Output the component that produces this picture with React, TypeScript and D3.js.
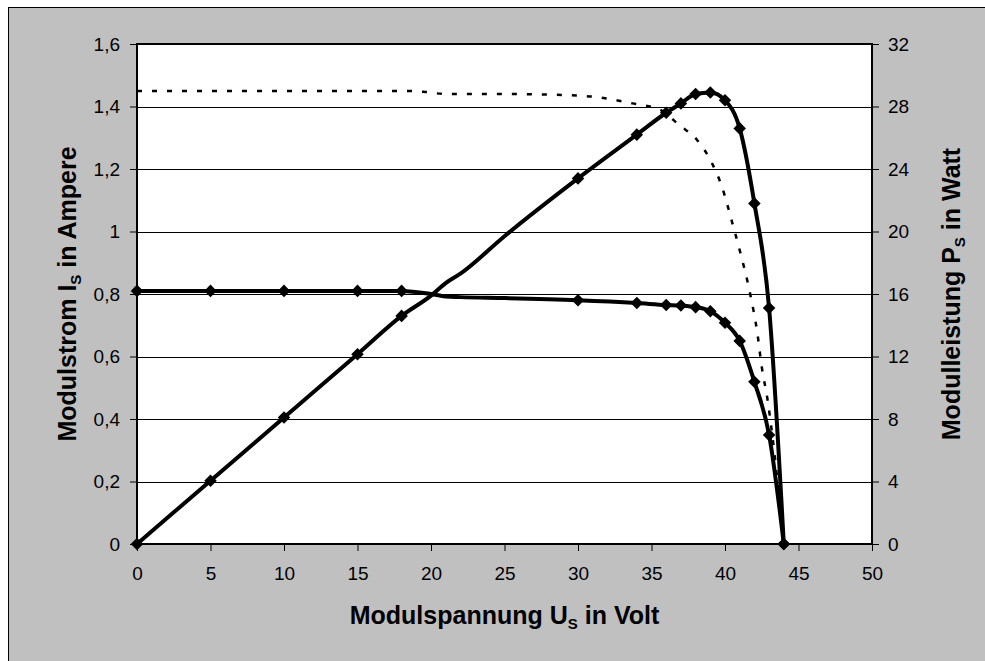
import React, { useEffect, useRef } from 'react';
import * as d3 from 'd3';

// Module voltage (V) for the measured series
const voltage = [0, 5, 10, 15, 18, 20, 21, 22, 25, 30, 34, 36, 37, 38, 39, 40, 41, 42, 43, 44];
// Module current (A), left axis
const current = [0.81, 0.81, 0.81, 0.81, 0.81, 0.8, 0.792, 0.79, 0.787, 0.78, 0.771, 0.765, 0.763, 0.758, 0.745, 0.708, 0.65, 0.519, 0.349, 0];
// Module power (W), right axis
const power = [0, 4.05, 8.1, 12.15, 14.6, 15.9, 16.7, 17.3, 19.7, 23.4, 26.2, 27.6, 28.2, 28.8, 28.9, 28.4, 26.6, 21.8, 15.1, 0];
// Voltages that carry a marker
const markedVoltages = [0, 5, 10, 15, 18, 30, 34, 36, 37, 38, 39, 40, 41, 42, 43, 44];

// Dotted reference curve (higher irradiance I-V curve)
const refVoltage = [0, 10, 18, 19.5, 21, 25, 30, 33.7, 35.6, 36.9, 38.1, 39.1, 39.8, 40.5, 41.0, 41.7, 42.2, 42.5, 42.9, 43.2, 44];
const refCurrent = [1.45, 1.45, 1.45, 1.447, 1.44, 1.44, 1.435, 1.41, 1.389, 1.34, 1.293, 1.22, 1.142, 1.027, 0.94, 0.803, 0.675, 0.567, 0.46, 0.355, 0];

const xTicks = [0, 5, 10, 15, 20, 25, 30, 35, 40, 45, 50];
const iTicks = [0, 0.2, 0.4, 0.6, 0.8, 1, 1.2, 1.4, 1.6];
const pTicks = [0, 4, 8, 12, 16, 20, 24, 28, 32];

const App = () => {
  const svgRef = useRef<SVGSVGElement>(null);

  useEffect(() => {
    const width = 985;
    const height = 661;
    const plot = { left: 137, right: 872, top: 44, bottom: 544 };
    const font = 'Liberation Sans, Arial, sans-serif';
    const titleSize = 25;
    const subSize = 15;
    const tickSize = 19;

    const svg = d3.select(svgRef.current);
    svg.selectAll('*').remove();

    // background frame
    svg.append('rect')
      .attr('width', width).attr('height', height).attr('fill', '#ffffff');
    svg.append('rect')
      .attr('x', 8.5).attr('y', 7.5)
      .attr('width', width).attr('height', height)
      .attr('fill', '#c0c0c0')
      .attr('stroke', '#000').attr('stroke-width', 1);

    const x = d3.scaleLinear().domain([0, 50]).range([plot.left, plot.right]);
    const yI = d3.scaleLinear().domain([0, 1.6]).range([plot.bottom, plot.top]);
    const yP = d3.scaleLinear().domain([0, 32]).range([plot.bottom, plot.top]);

    svg.append('rect')
      .attr('x', plot.left).attr('y', plot.top)
      .attr('width', plot.right - plot.left).attr('height', plot.bottom - plot.top)
      .attr('fill', '#fff');

    // horizontal grid lines
    svg.append('g')
      .selectAll('line')
      .data(iTicks.slice(1, -1))
      .enter().append('line')
      .attr('x1', plot.left).attr('x2', plot.right)
      .attr('y1', d => Math.round(yI(d)) + 0.5).attr('y2', d => Math.round(yI(d)) + 0.5)
      .attr('stroke', '#000').attr('stroke-width', 1);

    // axes
    const styleAxis = (g: d3.Selection<SVGGElement, unknown, null, undefined>) => {
      g.select('.domain').remove();
      g.selectAll('.tick line').attr('stroke', '#000');
      g.selectAll('.tick text')
        .attr('font-family', font).attr('font-size', tickSize).attr('fill', '#000');
    };

    svg.append('g')
      .attr('transform', `translate(0,${plot.bottom})`)
      .call(d3.axisBottom(x).tickValues(xTicks).tickSize(7).tickPadding(16).tickFormat(d3.format('d')))
      .call(styleAxis);

    svg.append('g')
      .attr('transform', `translate(${plot.left},0)`)
      .call(d3.axisLeft(yI).tickValues(iTicks).tickSize(7).tickPadding(10)
        .tickFormat(d => String(d).replace('.', ',')))
      .call(styleAxis);

    svg.append('g')
      .attr('transform', `translate(${plot.right},0)`)
      .call(d3.axisRight(yP).tickValues(pTicks).tickSize(7).tickPadding(9).tickFormat(d3.format('d')))
      .call(styleAxis);

    // plot border
    svg.append('rect')
      .attr('x', plot.left).attr('y', plot.top)
      .attr('width', plot.right - plot.left).attr('height', plot.bottom - plot.top)
      .attr('fill', 'none').attr('stroke', '#000').attr('stroke-width', 2);

    const body = svg.append('g');

    // dotted reference curve
    const refLine = d3.line<number>()
      .x((_, i) => x(refVoltage[i]))
      .y(d => yI(d))
      .curve(d3.curveMonotoneX);
    body.append('path')
      .attr('d', refLine(refCurrent))
      .attr('fill', 'none').attr('stroke', '#000')
      .attr('stroke-width', 2.5).attr('stroke-dasharray', '5,10');

    const iLine = d3.line<number>()
      .x((_, i) => x(voltage[i]))
      .y(d => yI(d))
      .curve(d3.curveMonotoneX);
    const pLine = d3.line<number>()
      .x((_, i) => x(voltage[i]))
      .y(d => yP(d))
      .curve(d3.curveMonotoneX);

    body.append('path')
      .attr('d', iLine(current))
      .attr('fill', 'none').attr('stroke', '#000').attr('stroke-width', 4)
      .attr('stroke-linejoin', 'round');
    body.append('path')
      .attr('d', pLine(power))
      .attr('fill', 'none').attr('stroke', '#000').attr('stroke-width', 4)
      .attr('stroke-linejoin', 'round');

    // diamond markers
    const diamond = d3.symbol().type(d3.symbolDiamond2).size(100);
    const marked = voltage.map((v, i) => i).filter(i => markedVoltages.includes(voltage[i]));
    body.selectAll('.mi')
      .data(marked)
      .enter().append('path')
      .attr('class', 'mi')
      .attr('d', diamond)
      .attr('transform', i => `translate(${x(voltage[i])},${yI(current[i])})`)
      .attr('fill', '#000');
    body.selectAll('.mp')
      .data(marked)
      .enter().append('path')
      .attr('class', 'mp')
      .attr('d', diamond)
      .attr('transform', i => `translate(${x(voltage[i])},${yP(power[i])})`)
      .attr('fill', '#000');

    // axis titles
    const xt = svg.append('text')
      .attr('x', (plot.left + plot.right) / 2).attr('y', 624)
      .attr('text-anchor', 'middle')
      .attr('font-family', font).attr('font-size', titleSize).attr('font-weight', 'bold');
    xt.append('tspan').text('Modulspannung U');
    xt.append('tspan').attr('font-size', subSize).attr('dy', 5).text('S');
    xt.append('tspan').attr('dy', -5).text(' in Volt');

    const yl = svg.append('text')
      .attr('transform', `translate(76,${(plot.top + plot.bottom) / 2}) rotate(-90)`)
      .attr('text-anchor', 'middle')
      .attr('font-family', font).attr('font-size', titleSize).attr('font-weight', 'bold');
    yl.append('tspan').text('Modulstrom I');
    yl.append('tspan').attr('font-size', subSize).attr('dy', 5).text('S');
    yl.append('tspan').attr('dy', -5).text(' in Ampere');

    const yr = svg.append('text')
      .attr('transform', `translate(960,${(plot.top + plot.bottom) / 2}) rotate(-90)`)
      .attr('text-anchor', 'middle')
      .attr('font-family', font).attr('font-size', titleSize).attr('font-weight', 'bold');
    yr.append('tspan').text('Modulleistung P');
    yr.append('tspan').attr('font-size', subSize).attr('dy', 5).text('S');
    yr.append('tspan').attr('dy', -5).text(' in Watt');
  }, []);

  return (
    <svg ref={svgRef} width={985} height={661}
      style={{ position: 'absolute', left: 0, top: 0, display: 'block' }} />
  );
};

export default App;
